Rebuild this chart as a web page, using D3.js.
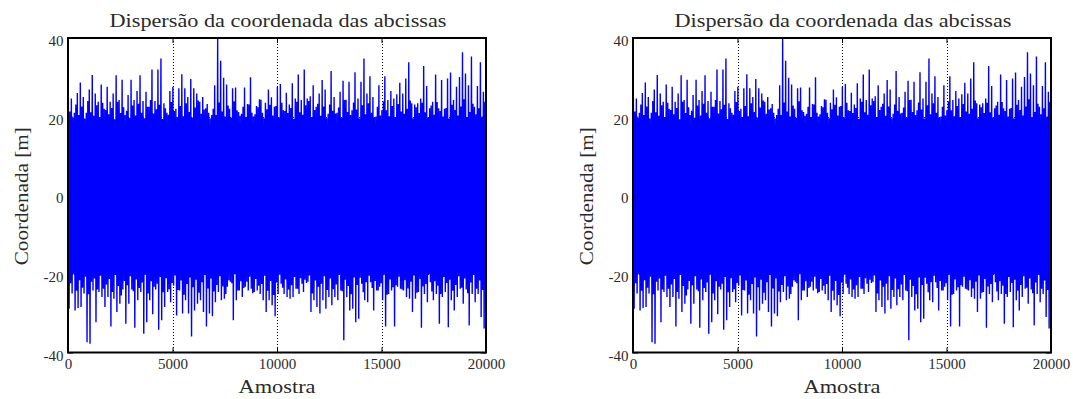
<!DOCTYPE html>
<html><head><meta charset="utf-8">
<script src="https://cdn.jsdelivr.net/npm/d3@7"></script>
<style>body{margin:0;background:#fff} svg{display:block} text{font-family:"Liberation Serif","DejaVu Serif",serif;}</style>
</head><body><svg id="c" width="1073" height="399"></svg>
<script>
// ---- data ----
const nSamples = 20000;
const xTicks = [0, 5000, 10000, 15000, 20000];
const yTicks = [-40, -20, 0, 20, 40];
// per-bin largest peak of the signal (140 bins over 20000 samples)
const upper = [24.6,24.6,21,26,28.7,25,21,26.9,30.6,25.9,23.8,28.2,22,27.6,23.8,25.9,30.5,24.2,29.4,20.4,
25.5,29.4,24.2,26.5,30.5,24,26.3,22.5,32,24,32,34.8,23.4,21,26.5,27.6,22,27.2,30.8,27.2,
25,29.6,27.2,25.9,23.8,25,22.1,21,20.4,28,40,34.2,29.9,28.2,22,27.2,27.4,21.2,20.7,27.4,
23.2,30,20,22.7,24.4,21,23.5,26.9,24.9,22.5,27.6,28.3,21.6,26.1,23.1,28.5,24.6,30.7,24.2,32,
24.6,25.2,28,22.5,25.9,29.3,26.9,20.7,31.6,25,21,26.3,29.1,24.3,28.9,21.6,31.3,24.6,28.9,34.8,
25.9,30.3,25,20,28,21.6,30.3,24.2,26.5,24.6,25.7,28.6,25.9,29.7,33.8,23.4,23.1,23.4,24.6,32.9,
27.8,22.1,23.8,30.7,22.1,29.3,22,29.7,31.2,24.2,27.6,30.1,36.4,31,28,35.3,22.5,27.8,33.8,26.3];
// per-bin deepest trough
const lower = [-28.9,-25,-29.3,-28.7,-28.4,-25,-37.4,-37.8,-24.2,-32.3,-24.6,-25.9,-28.4,-25.9,-33.4,-26.3,-29.7,-27.6,-24,-32.7,
-27.6,-24,-33.7,-26.7,-24.6,-35.2,-32.3,-26.7,-30.3,-24,-34.2,-31.8,-28.4,-24.6,-27.2,-23,-30.6,-24.2,-30.1,-26.7,
-30.1,-35.9,-29.3,-27.6,-26.7,-29.7,-33.4,-30.1,-30.8,-27.2,-24.6,-26.7,-26.3,-23.3,-22,-31.8,-26.7,-24.2,-25.9,-23.3,
-24.2,-23.8,-24.6,-24.2,-25.1,-26.7,-29.7,-26.7,-28,-30.8,-25.1,-22.5,-25.1,-25.9,-26.3,-25.9,-23.8,-25.1,-22.5,-21.5,
-22,-29.7,-26.7,-28.4,-30.1,-26.7,-28.9,-25.9,-28,-25.9,-26.7,-24.2,-36.9,-25.9,-29.3,-28.9,-32.3,-31.4,-22.5,-26.7,
-27.2,-22.1,-29.3,-24.2,-23.3,-26.7,-33.4,-25.1,-24.2,-33.4,-23.3,-23.8,-24.2,-25.9,-26.3,-29.7,-26.3,-24.6,-33.7,-25.1,
-27.2,-22.1,-26.7,-25.1,-32.7,-25.9,-24.6,-33.6,-26.7,-29.3,-25.9,-23.8,-27.6,-24,-33.1,-25.1,-27.2,-25.1,-31,-33.9];
// secondary peaks / troughs inside each bin (dense fringe)
const upper2 = [21.3,19.8,23.1,20.4,22.6,19.5,24.0,21.1,20.2,22.9,
19.9,23.5,21.7,20.6,22.2,19.3,23.8,20.9,22.4,21.5,
19.7,22.8,20.3,23.3,21.0,19.6,22.5,24.2,20.8,21.9,
23.0,19.4,22.1,20.5,23.7,21.4,19.9,22.7,20.1,23.4,
21.2,19.8,22.3,24.1,20.7,21.8,23.2,19.5,22.0,20.4,
23.6,21.3,20.0,22.8,19.7,23.9,21.6,20.2,22.5,19.9,
23.1,21.0,20.6,22.4,24.3,19.6,21.9,23.0,20.3,22.7,
19.8,23.5,21.4,20.9,22.2,19.4,23.8,21.1,20.5,22.9,
24.0,19.9,21.7,23.3,20.2,22.6,19.6,23.1,21.5,20.8,
22.3,19.7,24.2,21.2,20.4,23.6,21.8,19.5,22.9,20.6,
23.4,21.0,19.8,22.5,20.3,23.9,21.6,20.1,22.7,19.9,
23.2,21.3,20.7,22.0,24.1,19.6,22.4,20.9,23.5,21.1,
19.8,22.8,20.5,23.7,21.4,20.0,22.2,19.5,23.0,21.7,
20.3,22.6,24.4,19.9,21.2,23.3,20.6,22.1,19.7,23.8];
const lower2 = [-22.4,-20.1,-24.3,-21.6,-23.5,-20.7,-25.2,-22.0,-21.2,-24.0,
-20.5,-23.8,-22.7,-21.3,-24.6,-20.3,-23.1,-25.5,-21.8,-22.9,
-20.6,-24.4,-21.4,-23.6,-22.2,-20.2,-25.0,-21.9,-23.3,-22.5,
-20.8,-24.7,-21.1,-23.9,-22.3,-20.4,-24.1,-21.7,-25.3,-22.6,
-20.9,-23.4,-21.5,-24.8,-22.1,-20.3,-23.7,-21.2,-24.5,-22.8,
-20.6,-23.2,-25.1,-21.6,-22.4,-20.1,-24.2,-21.9,-23.6,-22.0,
-20.7,-24.9,-21.3,-23.0,-22.6,-20.5,-24.3,-21.8,-25.4,-22.2,
-20.2,-23.5,-21.4,-24.0,-22.9,-20.8,-23.8,-21.1,-24.6,-22.3,
-20.4,-25.0,-21.7,-23.3,-22.5,-20.6,-24.1,-21.2,-23.9,-22.7,
-20.3,-24.4,-21.5,-23.1,-25.2,-20.9,-22.8,-21.0,-24.7,-22.1,
-20.5,-23.6,-21.8,-24.2,-22.4,-20.2,-25.3,-21.4,-23.4,-22.9,
-20.7,-24.0,-21.6,-23.7,-22.0,-20.4,-24.8,-21.3,-23.2,-22.6,
-20.1,-24.5,-21.9,-23.0,-25.1,-20.8,-22.3,-21.5,-24.3,-22.8,
-20.6,-23.5,-21.2,-24.9,-22.2,-20.3,-23.8,-21.7,-24.1,-22.5];
// edges of the fully solid band, every 1000 samples
const coreTop = [18.2,17.6,18.5,17.9,17.4,18.3,18.6,17.8,18.1,17.5,18.4,17.9,18.5,17.7,18.0,18.6,17.8,18.2,17.6,18.1,18.3];
const coreBottom = [-19.6,-20,-19.2,-19.8,-20.2,-19.5,-19.1,-19.9,-19.6,-20.1,-19.4,-19.8,-19.3,-20,-19.7,-19.2,-19.9,-19.5,-20.1,-19.6,-19.4];
const titleText = "Dispersão da coordenada das abcissas";
const xLabelText = "Amostra";
const yLabelText = "Coordenada [m]";

// ---- layout ----
const panels = [{left: 68, right: 486}, {left: 633, right: 1051}];
const plotTop = 38, plotBottom = 352.5;
const svg = d3.select("#c");
const textCol = "#2a2a2a";

// zigzag points: peak, trough, secondary peak, secondary trough in each bin
const binW = nSamples / upper.length;
const pts = [];
upper.forEach((u, i) => {
  pts.push([(i + 0.125) * binW, u]);
  pts.push([(i + 0.375) * binW, lower[i]]);
  pts.push([(i + 0.625) * binW, upper2[i]]);
  pts.push([(i + 0.875) * binW, lower2[i]]);
});
const corePts = coreTop.map((t, i) => [i * 1000, t, coreBottom[i]]);

panels.forEach((p, k) => {
  const x = d3.scaleLinear().domain([0, nSamples]).range([p.left, p.right]);
  const y = d3.scaleLinear().domain([-40, 40]).range([plotBottom, plotTop]);
  const g = svg.append("g");
  const clipId = "clip" + k;
  svg.append("clipPath").attr("id", clipId).append("rect")
    .attr("x", p.left).attr("y", plotTop).attr("width", p.right - p.left).attr("height", plotBottom - plotTop);

  // grid (dotted, below data)
  const grid = g.append("g").attr("stroke", "#000").attr("stroke-width", 1).attr("stroke-dasharray", "1,2");
  xTicks.slice(1, -1).forEach(v => {
    const xx = Math.round(x(v)) + 0.5;
    grid.append("line").attr("x1", xx).attr("x2", xx).attr("y1", plotTop).attr("y2", plotBottom);
  });
  yTicks.slice(1, -1).forEach(v => {
    const yy = Math.round(y(v)) + 0.5;
    grid.append("line").attr("x1", p.left).attr("x2", p.right).attr("y1", yy).attr("y2", yy);
  });

  // axes with inward ticks
  const tk = 5;
  const fmt = d => String(d);
  const axB = g.append("g").attr("transform", `translate(0,${plotBottom})`)
    .call(d3.axisBottom(x).tickValues(xTicks).tickSize(-tk).tickPadding(6).tickFormat(fmt));
  const axT = g.append("g").attr("transform", `translate(0,${plotTop})`)
    .call(d3.axisTop(x).tickValues(xTicks).tickSize(-tk).tickFormat(""));
  const axL = g.append("g").attr("transform", `translate(${p.left},0)`)
    .call(d3.axisLeft(y).tickValues(yTicks).tickSize(-tk).tickPadding(5).tickFormat(fmt));
  const axR = g.append("g").attr("transform", `translate(${p.right},0)`)
    .call(d3.axisRight(y).tickValues(yTicks).tickSize(-tk).tickFormat(""));
  [axB, axT, axL, axR].forEach(a => {
    a.attr("font-family", null).attr("font-size", null);
    a.select(".domain").remove();
    a.selectAll("line").attr("stroke", "#000");
    a.selectAll("text").style("font-size", "15px").attr("fill", textCol);
  });
  axL.selectAll("text").attr("dy", 7.5).attr("x", -4.5);
  axB.selectAll("text").attr("dy", "0.71em");

  // data
  const dg = g.append("g").attr("clip-path", `url(#${clipId})`);
  dg.append("path").datum(corePts)
    .attr("d", d3.area().x(d => x(d[0])).y0(d => y(d[2])).y1(d => y(d[1])))
    .attr("fill", "#0000ff");
  dg.append("path").datum(pts)
    .attr("d", d3.line().x(d => x(d[0])).y(d => y(d[1])))
    .attr("fill", "none").attr("stroke", "#0000ff").attr("stroke-width", 1.4);

  // box
  g.append("rect").attr("x", p.left).attr("y", plotTop)
    .attr("width", p.right - p.left).attr("height", plotBottom - plotTop)
    .attr("fill", "none").attr("stroke", "#000").attr("stroke-width", 2);

  const cx = (p.left + p.right) / 2;
  g.append("text").attr("x", cx + 1).attr("y", 26.5).attr("text-anchor", "middle")
    .style("font-size", "18px").attr("fill", textCol)
    .attr("textLength", 337).attr("lengthAdjust", "spacingAndGlyphs").text(titleText);
  g.append("text").attr("x", cx).attr("y", 393).attr("text-anchor", "middle")
    .style("font-size", "19px").attr("fill", textCol)
    .attr("textLength", 77).attr("lengthAdjust", "spacingAndGlyphs").text(xLabelText);
  g.append("text").attr("transform", `translate(${p.left - 40},${(plotTop + plotBottom) / 2 + 1}) rotate(-90)`)
    .attr("text-anchor", "middle")
    .style("font-size", "19px").attr("fill", textCol)
    .attr("textLength", 138).attr("lengthAdjust", "spacingAndGlyphs").text(yLabelText);
});
</script></body></html>
